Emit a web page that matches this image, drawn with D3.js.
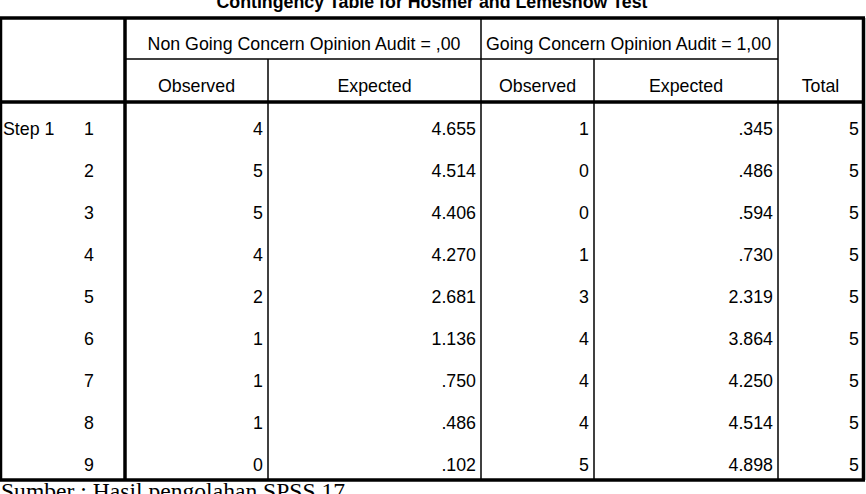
<!DOCTYPE html>
<html><head><meta charset="utf-8">
<script src="https://cdn.jsdelivr.net/npm/d3@7"></script>
<style>body{margin:0;background:#fff;overflow:hidden}svg{display:block}</style>
</head><body>
<script>
const title = "Contingency Table for Hosmer and Lemeshow Test";
const groupHeaders = ["Non Going Concern Opinion Audit = ,00", "Going Concern Opinion Audit = 1,00"];
const subHeaders = ["Observed", "Expected", "Observed", "Expected"];
const totalHeader = "Total";
const stepLabel = "Step 1";
const groups = ["1","2","3","4","5","6","7","8","9"];
const nonObserved = ["4","5","5","4","2","1","1","1","0"];
const nonExpected = ["4.655","4.514","4.406","4.270","2.681","1.136",".750",".486",".102"];
const gcObserved = ["1","0","0","1","3","4","4","4","5"];
const gcExpected = [".345",".486",".594",".730","2.319","3.864","4.250","4.514","4.898"];
const totals = ["5","5","5","5","5","5","5","5","5"];
const footnote = "Sumber : Hasil pengolahan SPSS 17";

const W = 866, H = 494;
const svg = d3.select("body").append("svg").attr("width", W).attr("height", H);
const font = "'Liberation Sans', Arial, sans-serif";

// column edges
const colEdges = [0, 125, 268, 481, 594, 778, 863];
const tTop = 18, tMid = 59, hdrBottom = 102, tBottom = 480;

const y = d3.scaleBand().domain(groups).range([hdrBottom, tBottom]);

// title
svg.append("text").attr("x", 432).attr("y", 8).attr("text-anchor", "middle")
  .attr("font-family", font).attr("font-weight", "bold").attr("font-size", 17.8)
  .text(title);

const g = svg.append("g");
function line(x1, y1, x2, y2, w) {
  g.append("line").attr("x1", x1).attr("y1", y1).attr("x2", x2).attr("y2", y2)
    .attr("stroke", "#000").attr("stroke-width", w);
}
// horizontal
line(0, tTop, 865, tTop, 3.5);
line(colEdges[1], tMid, colEdges[5], tMid, 1.5);
line(0, hdrBottom, 865, hdrBottom, 3.5);
line(0, tBottom, 865, tBottom, 3.5);
// vertical
line(1, tTop, 1, tBottom, 2.5);
line(colEdges[1], tTop, colEdges[1], tBottom, 3.5);
line(colEdges[2], tMid, colEdges[2], tBottom, 1.5);
line(colEdges[3], tTop, colEdges[3], tBottom, 1.5);
line(colEdges[4], tMid, colEdges[4], tBottom, 1.5);
line(colEdges[5], tTop, colEdges[5], tBottom, 1.5);
line(863.5, tTop, 863.5, tBottom, 3.5);

const fs = 17.8;
function txt(x, yy, s, anchor) {
  svg.append("text").attr("x", x).attr("y", yy).attr("text-anchor", anchor || "start")
    .attr("font-family", font).attr("font-size", fs).attr("fill", "#000").text(s);
}
// header
txt((colEdges[1] + colEdges[3]) / 2 + 1, 50, groupHeaders[0], "middle");
txt((colEdges[3] + colEdges[5]) / 2 - 1, 50, groupHeaders[1], "middle");
subHeaders.forEach((s, i) => txt((colEdges[i + 1] + colEdges[i + 2]) / 2, 92, s, "middle"));
txt((colEdges[5] + colEdges[6]) / 2, 92, totalHeader, "middle");

// body
const cols = [nonObserved, nonExpected, gcObserved, gcExpected, totals];
groups.forEach((gr, r) => {
  const by = y(gr) + 33;
  if (r === 0) txt(3, by, stepLabel);
  txt(84, by, gr);
  cols.forEach((arr, c) => {
    const right = colEdges[c + 2] - (c === 4 ? 4 : 5);
    txt(right, by, arr[r], "end");
  });
});

// footnote
svg.append("text").attr("x", 1).attr("y", 499).attr("font-family", "'Liberation Serif', 'Times New Roman', serif")
  .attr("font-size", 23.6).attr("fill", "#000").text(footnote);
</script>
</body></html>
